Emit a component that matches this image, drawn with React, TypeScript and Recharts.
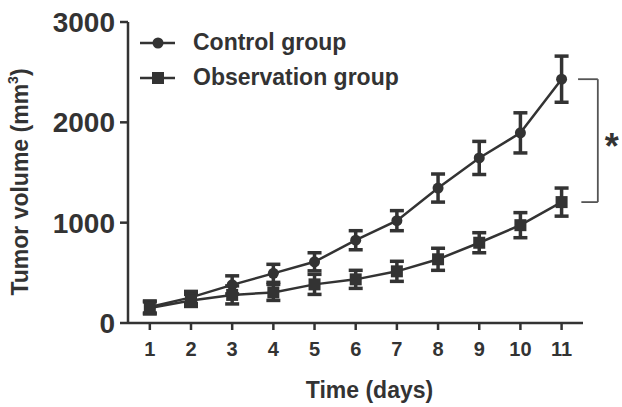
import React from 'react';
import { ComposedChart, Line, XAxis, YAxis, ErrorBar, ReferenceLine, ReferenceDot, Label } from 'recharts';

const days = [1, 2, 3, 4, 5, 6, 7, 8, 9, 10, 11];
const controlMean = [160, 255, 380, 495, 610, 825, 1020, 1345, 1645, 1895, 2430];
const controlErr = [60, 60, 90, 90, 90, 95, 100, 140, 165, 200, 230];
const obsMean = [150, 225, 280, 305, 385, 435, 515, 635, 800, 975, 1205];
const obsErr = [60, 60, 90, 80, 100, 90, 100, 110, 100, 125, 140];
const yTicks = [0, 1000, 2000, 3000];
const seriesNames = ['Control group', 'Observation group'];
const yTitle = 'Tumor volume (mm';
const xTitle = 'Time (days)';
const sigMark = '*';

const data = days.map((d, i) => ({
  day: d,
  control: controlMean[i],
  controlErr: controlErr[i],
  obs: obsMean[i],
  obsErr: obsErr[i],
}));

const INK = '#333333';
const FONT = '"Liberation Sans", Arial, sans-serif';

const SquareDot = (props: any) => {
  const { cx, cy } = props;
  if (cx == null || cy == null) return null;
  return <rect x={cx - 6} y={cy - 6} width={12} height={12} fill={INK} />;
};

const LegendBox = () => (
  <div style={{ position: 'absolute', left: 140, top: 25, fontFamily: FONT, fontWeight: 'bold', fontSize: 23, color: INK, lineHeight: '35px' }}>
    {seriesNames.map((name, i) => (
      <div key={name} style={{ display: 'flex', alignItems: 'center', height: 35 }}>
        <svg width={53} height={16} style={{ display: 'block' }}>
          <line x1={0} y1={8} x2={35} y2={8} stroke={INK} strokeWidth={2.5} />
          {i === 0 ? <circle cx={18} cy={8} r={5.5} fill={INK} /> : <rect x={12} y={2} width={12} height={12} fill={INK} />}
        </svg>
        <span>{name}</span>
      </div>
    ))}
  </div>
);

const YTitle = (props: any) => {
  const vb = props.viewBox || {};
  const x = vb.x - 40;
  const y = vb.y + vb.height / 2 + 9.5;
  return (
    <text x={x} y={y} transform={`rotate(-90, ${x}, ${y})`} textAnchor="middle" fontFamily={FONT} fontWeight="bold" fontSize={23} fill={INK}>
      {yTitle}
      <tspan fontSize={14} dy={-10}>3</tspan>
      <tspan fontSize={23} dy={10}>)</tspan>
    </text>
  );
};

const XTitle = (props: any) => {
  const vb = props.viewBox || {};
  return (
    <text x={vb.x + vb.width / 2 + 14} y={398} textAnchor="middle" fontFamily={FONT} fontWeight="bold" fontSize={23} fill={INK}>
      {xTitle}
    </text>
  );
};

const StarLabel = (props: any) => {
  const vb = props.viewBox || {};
  const cx = vb.x + (vb.width || 0) / 2;
  const cy = vb.y + (vb.height || 0) / 2;
  return (
    <text x={cx} y={cy + 18} textAnchor="middle" fontFamily={FONT} fontWeight="bold" fontSize={36} fill={INK}>
      {sigMark}
    </text>
  );
};

export default function App() {
  const cTop = controlMean[controlMean.length - 1];
  const oTop = obsMean[obsMean.length - 1];
  return (
    <div style={{ position: 'absolute', left: 0, top: 0, width: 622, height: 407, background: '#fff' }}>
      <ComposedChart width={622} height={407} data={data} margin={{ top: 22, right: 39, left: 68, bottom: 24 }}>
        <XAxis
          dataKey="day"
          type="number"
          domain={[0.47, 11.52]}
          ticks={days}
          allowDataOverflow
          height={60}
          tickSize={7}
          tickMargin={12}
          axisLine={{ stroke: INK, strokeWidth: 2.5 }}
          tickLine={{ stroke: INK, strokeWidth: 2.5 }}
          tick={{ fill: INK, fontFamily: FONT, fontWeight: 'bold', fontSize: 20 }}
        >
          <Label content={<XTitle />} />
        </XAxis>
        <YAxis
          type="number"
          domain={[0, 3000]}
          ticks={yTicks}
          width={60}
          tickSize={8}
          tickMargin={5}
          axisLine={{ stroke: INK, strokeWidth: 2.5 }}
          tickLine={{ stroke: INK, strokeWidth: 2.5 }}
          tick={{ fill: INK, fontFamily: FONT, fontWeight: 'bold', fontSize: 28 }}
        >
          <Label content={<YTitle />} />
        </YAxis>
        <Line
          dataKey="control"
          name={seriesNames[0]}
          stroke={INK}
          strokeWidth={2.5}
          dot={{ r: 5.5, fill: INK, stroke: INK, strokeWidth: 0 }}
          activeDot={false}
          isAnimationActive={false}
        >
          <ErrorBar dataKey="controlErr" direction="y" width={7} stroke={INK} strokeWidth={3.5} />
        </Line>
        <Line
          dataKey="obs"
          name={seriesNames[1]}
          stroke={INK}
          strokeWidth={2.5}
          dot={<SquareDot />}
          activeDot={false}
          isAnimationActive={false}
        >
          <ErrorBar dataKey="obsErr" direction="y" width={7} stroke={INK} strokeWidth={3.5} />
        </Line>
        <ReferenceLine segment={[{ x: 11.4, y: cTop }, { x: 11.88, y: cTop }]} stroke="#555" strokeWidth={1.8} ifOverflow="visible" />
        <ReferenceLine segment={[{ x: 11.88, y: cTop }, { x: 11.88, y: oTop }]} stroke="#555" strokeWidth={1.8} ifOverflow="visible" />
        <ReferenceLine segment={[{ x: 11.48, y: oTop }, { x: 11.88, y: oTop }]} stroke="#555" strokeWidth={1.8} ifOverflow="visible" />
        <ReferenceDot x={12.22} y={(cTop + oTop) / 2} r={0} stroke="none" fill="none" ifOverflow="visible" label={<StarLabel />} />
      </ComposedChart>
      <LegendBox />
    </div>
  );
}
